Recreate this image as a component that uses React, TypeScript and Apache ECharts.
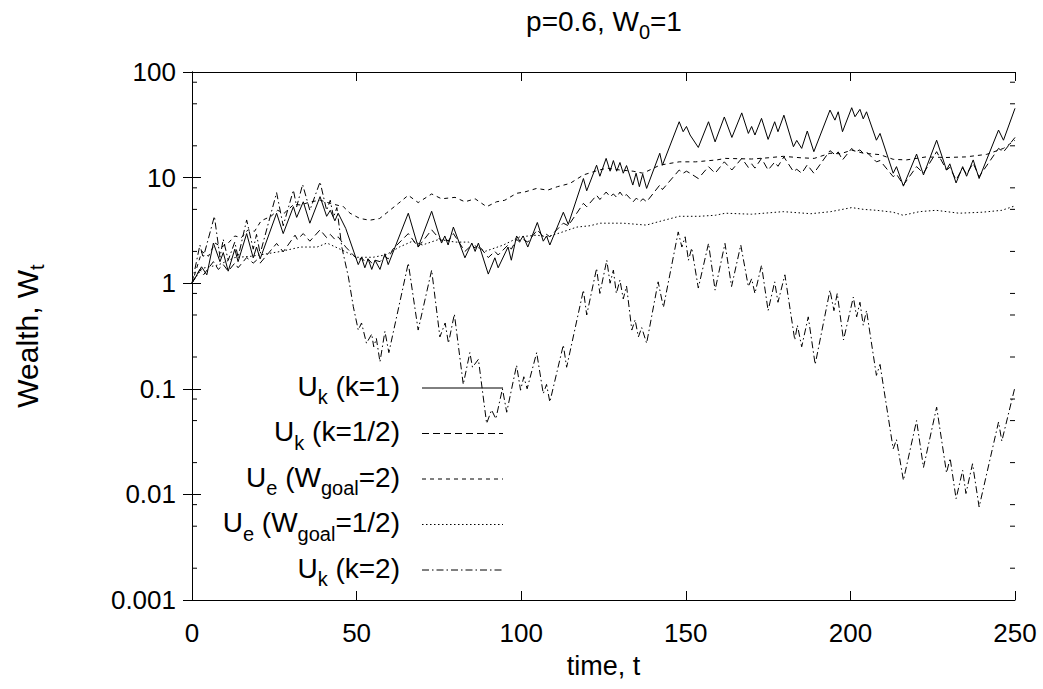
import React, { useEffect, useRef } from "react";
import * as echarts from "echarts";

// ---- data: [time t, wealth W_t] ----
const ukK1: [number, number][] = [
  [0, 1], [2.9, 1.43], [4.5, 1.2], [6.5, 2.4], [8.5, 1.6], [9.5, 1.95], [11, 1.3], [13, 2.1], [14, 1.6],
  [16.6, 2.95], [18.6, 1.74], [19.6, 2.2], [20.7, 1.7], [25.7, 4.6], [27.7, 2.95], [30.8, 5.3], [31.8, 4.2],
  [33.8, 5.9], [35.8, 3.7], [38.9, 6.6], [40.9, 4.3], [42, 4.9], [43.4, 3.9], [44.4, 4.6], [46.7, 3.3],
  [50.5, 1.5], [51.5, 1.75], [52.5, 1.4], [53.5, 1.7], [54.6, 1.35], [55.6, 1.65], [57.1, 1.35], [58.6, 1.9],
  [59.6, 1.5], [65.7, 4.6], [68.7, 2.2], [72.8, 4.8], [75.8, 2.4], [76.8, 2.8], [77.8, 2.3], [79.4, 3.4],
  [82.9, 1.74], [85, 2.4], [86, 2.0], [87, 2.4], [90, 1.22], [92, 1.74], [93, 1.4], [96, 2.2], [97, 1.65],
  [98.6, 2.8], [99.6, 2.5], [100.6, 2.8], [102, 2.2], [104.9, 3.76], [106.7, 2.5], [107.7, 2.8], [108.7, 2.3],
  [112.8, 4.7], [114.3, 3.6], [118.9, 9.8], [119.9, 7.5], [122.9, 13.1], [123.9, 10.3], [125.8, 15.2],
  [127, 11.5], [128, 14.5], [129, 11.5], [130, 13.9], [131, 11], [132, 13], [133.9, 8.5], [134.9, 11],
  [135.9, 8.2], [136.9, 10.8], [138.1, 7.9], [142.1, 17], [142.9, 13.1], [148, 33.8], [149.2, 27.2],
  [150.2, 30.5], [151.3, 25.3], [153.8, 19.3], [156.9, 33.8], [158.9, 21.8], [161.7, 37.5], [164, 24],
  [167, 41], [169, 26.2], [170, 30.5], [171, 25.3], [173, 36.4], [175, 23], [177, 33.8], [178, 27.2],
  [179.8, 39], [182.7, 19.6], [183.7, 22.5], [185.2, 18.9], [186.9, 27.6], [188.9, 17.6], [193.8, 43.6],
  [195.3, 35], [196.3, 42], [197.6, 27.2], [200.4, 45.9], [201.4, 37.7], [202.9, 44.3], [203.9, 36],
  [204.9, 42], [207.9, 22.6], [209, 26.2], [213, 11], [214, 12.7], [216.1, 8.3], [220.1, 16.7],
  [222.2, 10.6], [226.2, 22.6], [229.2, 11.8], [230.2, 13.5], [232.1, 8.9], [234.1, 12.7], [235.3, 10.3],
  [237.3, 14.7], [239.1, 9.8], [245, 28.2], [246.5, 22.6], [250, 45.3],
];

const ukKHalf: [number, number][] = [
  [0, 1], [2.4, 1.35], [3.5, 1.2], [6.5, 1.6], [8, 1.35], [9.5, 1.5], [11, 1.3], [13, 1.55], [14, 1.4],
  [16.6, 1.75], [18.6, 1.55], [19.6, 1.65], [20.7, 1.55], [25.7, 2.38], [27.7, 1.98], [31.3, 2.85], [32, 2.6],
  [33.8, 2.95], [35.8, 2.5], [38.9, 3.2], [40.9, 2.7], [42, 2.9], [43.4, 2.6], [44.4, 2.75], [46.7, 2.2],
  [50.5, 1.65], [51.5, 1.75], [52.5, 1.6], [53.5, 1.7], [54.6, 1.55], [55.6, 1.65], [57.1, 1.6], [58.6, 1.8],
  [59.6, 1.7], [61, 2.1], [65.7, 2.95], [68.7, 2.2], [72.8, 3.2], [75.8, 2.5], [76.8, 2.7], [77.8, 2.5],
  [79.4, 2.95], [82.9, 2.0], [85, 2.3], [86, 2.15], [87, 2.3], [90, 1.75], [92, 2.0], [93, 1.85], [96, 2.3],
  [97, 2.1], [98.6, 2.6], [99.6, 2.45], [100.6, 2.6], [102, 2.45], [104.9, 3.2], [106.7, 2.75], [107.7, 2.9],
  [108.7, 2.75], [112.8, 3.7], [114.3, 3.5], [118.9, 5.7], [119.9, 5.3], [122.9, 6.8], [123.9, 6.2],
  [125.8, 7.3], [127, 6.6], [128, 7.0], [129, 6.5], [130, 7.3], [131, 6.6], [132, 6.9], [134, 5.9],
  [135, 6.4], [136, 5.9], [137, 6.3], [138.1, 5.9], [142.1, 8.5], [142.9, 7.7], [148, 11.8], [149.2, 11],
  [150.2, 11.5], [151.3, 11.0], [153.8, 9.8], [156.9, 12.7], [158.9, 11], [161.7, 14.1], [164, 11.8],
  [167, 15.2], [169, 12.5], [170, 13.5], [171, 12.3], [173, 15.2], [175, 11.8], [177, 14], [178, 12.8],
  [179.8, 15.7], [182.7, 11.4], [183.7, 12], [185.2, 11], [186.9, 13.2], [188.9, 11], [193.8, 18],
  [195.3, 16.5], [196.3, 17.5], [197.6, 14.7], [200.4, 18.9], [201.4, 17.5], [202.9, 18.3], [203.9, 17],
  [204.9, 17.5], [207.9, 14.1], [209, 14.5], [213, 10.2], [214, 10.8], [216.1, 8.5], [220.1, 12.7],
  [222.2, 11], [226.2, 17.6], [229.2, 11.8], [230.2, 12.5], [232.1, 9.5], [234.1, 12.3], [235.3, 10.8],
  [237.3, 13.7], [239.1, 10.2], [245, 18.9], [246.5, 17.5], [250, 24],
];

const ueGoal2: [number, number][] = [
  [0, 1], [3, 2.0], [5, 1.8], [7, 2.4], [9, 2.2], [11, 2.4], [13, 2.8], [15, 2.7], [17, 3.2], [19, 3.1],
  [21, 3.9], [24, 4.3], [26, 4.9], [28, 4.6], [31, 5.6], [33, 5.5], [36, 5.9], [39, 6.1], [42, 5.7],
  [46, 5.3], [48, 4.6], [51, 4.1], [54, 3.95], [57, 4.1], [59, 4.6], [62.7, 5.7], [65.7, 6.8], [68.7, 5.8],
  [72.8, 7.0], [75.8, 6.3], [79.9, 6.5], [82.9, 5.9], [86, 6.3], [89.5, 5.3], [92.5, 5.9], [95, 6.1],
  [98.6, 7.1], [101, 7.3], [104.7, 7.9], [108, 7.6], [111, 8.2], [114.8, 8.8], [118.9, 10.6], [122.9, 11.6],
  [126, 12.3], [130, 11.8], [134, 11.5], [137, 11], [140, 12.2], [142.1, 13.1], [145, 13.6], [148, 14.1],
  [153, 14.1], [159.4, 14.7], [162, 15.2], [170, 15.0], [175, 15.4], [179.6, 15.9], [185, 15.4], [189, 15.2],
  [193.8, 17], [197, 16.8], [200.4, 18.2], [204, 17], [209, 16.5], [213, 14.9], [217, 14.7], [223, 15.7],
  [229, 15.5], [235, 15.7], [241.4, 16.6], [246.5, 18.9], [250, 22.6],
];

const ueGoalHalf: [number, number][] = [
  [0, 1], [3, 1.38], [8, 1.49], [13, 1.75], [18, 1.8], [21, 1.86], [27, 2.0], [33, 2.2], [38, 2.2],
  [41, 2.4], [45, 2.1], [50, 1.76], [55, 1.76], [59, 1.86], [63, 2.2], [67, 2.5], [70, 2.3], [75, 2.6],
  [80, 2.45], [84, 2.45], [89, 2.0], [94.6, 2.3], [99.6, 2.75], [104.7, 2.85], [108, 2.75], [111.8, 3.0],
  [116.9, 3.4], [120.9, 3.5], [124, 3.7], [131, 3.7], [138, 3.55], [142.1, 3.85], [148, 4.3], [154, 4.3],
  [159, 4.4], [162, 4.6], [170, 4.5], [179.6, 4.76], [188, 4.55], [194, 4.76], [200.4, 5.2], [204, 5.0],
  [208, 4.9], [213, 4.7], [216, 4.4], [221, 4.76], [226, 4.9], [233, 4.6], [240, 4.7], [246, 4.9], [250, 5.4],
];

const ukK2: [number, number][] = [
  [0, 1], [2.4, 2.3], [3.4, 1.74], [6.8, 4.3], [8.5, 1.76], [9.5, 2.6], [11, 1.65], [13, 2.45], [14, 1.76],
  [16.6, 3.97], [18.6, 2.1], [19.6, 2.9], [20.7, 1.9], [25.7, 7.2], [27.7, 3.5], [30.8, 7.6], [31.8, 5.3],
  [33.6, 8.6], [35.8, 4.9], [38.9, 9.1], [40.9, 4.9], [42, 6.1], [43, 4.2], [44, 5.2], [45.5, 2.2],
  [47.5, 1.15], [49, 0.6], [50.5, 0.36], [51.5, 0.42], [53, 0.27], [54.6, 0.33], [55.2, 0.25], [56, 0.3],
  [57.1, 0.18], [58.6, 0.35], [59.8, 0.22], [65.7, 1.55], [68.7, 0.36], [72.8, 1.33], [75.3, 0.31],
  [76.9, 0.42], [77.9, 0.27], [79.7, 0.51], [82.4, 0.11], [84.4, 0.22], [85.2, 0.16], [87, 0.19],
  [89.5, 0.047], [91, 0.063], [92.3, 0.052], [94.3, 0.1], [95.6, 0.06], [98.6, 0.167], [99.8, 0.097],
  [100.8, 0.13], [101.8, 0.1], [104.7, 0.22], [106.7, 0.09], [107.7, 0.11], [108.7, 0.075], [112.8, 0.26],
  [113.8, 0.16], [118.9, 0.86], [119.9, 0.5], [122.9, 1.38], [123.9, 0.8], [126, 1.65], [127, 1.0],
  [128, 1.33], [128.9, 0.8], [130, 1.07], [131, 0.71], [132, 0.94], [133.6, 0.36], [134.6, 0.45],
  [135.6, 0.31], [136.6, 0.38], [138.1, 0.27], [141.6, 1.03], [143.2, 0.59], [147.7, 3.06], [148.8, 2.2],
  [149.8, 2.75], [150.8, 1.65], [151.8, 2.15], [153.8, 0.9], [156.9, 2.38], [158.9, 0.86], [161.9, 2.38],
  [163.9, 0.93], [166.7, 2.3], [169, 0.93], [170, 1.1], [171, 0.8], [173, 1.48], [175, 0.55], [177, 1.03],
  [178, 0.66], [180.1, 1.2], [183.1, 0.29], [183.9, 0.4], [185.2, 0.25], [187.2, 0.48], [189.3, 0.17],
  [193.8, 0.86], [195, 0.55], [196, 0.8], [197.9, 0.29], [200.9, 0.74], [201.9, 0.48], [202.9, 0.66],
  [203.9, 0.4], [204.9, 0.55], [207.9, 0.134], [209, 0.17], [213, 0.027], [214, 0.033], [216.1, 0.0136],
  [220.1, 0.05], [222.2, 0.018], [226.2, 0.067], [229.2, 0.016], [230.3, 0.022], [232.1, 0.0091],
  [234.1, 0.0169], [235.1, 0.0102], [237.1, 0.0195], [239.1, 0.0076], [245, 0.0485], [246, 0.032],
  [250, 0.104],
];

const seriesNames = [
  "U{s|k} (k=1)",
  "U{s|k} (k=1/2)",
  "U{s|e} (W{s|goal}=2)",
  "U{s|e} (W{s|goal}=1/2)",
  "U{s|k} (k=2)",
];
const seriesData = [ukK1, ukKHalf, ueGoal2, ueGoalHalf, ukK2];

const xMin = 0;
const xMax = 250;
const xInterval = 50;
const yTickLabels = ["0.001", "0.01", "0.1", "1", "10", "100"];
const yMinorTicks = [
  0.002, 0.005, 0.008, 0.02, 0.05, 0.08, 0.2, 0.5, 0.8, 2, 5, 8, 20, 50, 80,
];
const titleText = "p=0.6, W{s|0}=1";
const xName = "time, t";
const yName = "Wealth, W{s|t}";

// ---- styles ----
const FONT = "'Liberation Sans', Arial, Helvetica, sans-serif";
const FS_TICK = 26;
const FS_LEGEND = 28;
const FS_TITLE = 28;
const FS_XNAME = 27;
const FS_YNAME = 30;
const FS_SUB = 20;
const dashes: (string | number[])[] = ["solid", [7, 4], [4, 4], [1.5, 2.5], [7, 3, 1.5, 3]];
const subStyle = (extra: any = {}) => ({
  fontSize: FS_SUB,
  fontFamily: FONT,
  verticalAlign: "bottom",
  lineHeight: FS_SUB,
  ...extra,
});

export default function App() {
  const ref = useRef<HTMLDivElement>(null);
  useEffect(() => {
    document.body.style.margin = "0";
    if (!ref.current) return;
    const chart = echarts.init(ref.current, undefined, { renderer: "svg" });

    const gridLeft = 192, gridTop = 72, gridRight = 28, gridBottom = 89;
    const legendTextX = 400;
    const legendLineX1 = 422, legendLineX2 = 503;
    const legendY0 = 388, legendDy = 45.5;

    const legendGraphics: any[] = [];
    seriesNames.forEach((nm, i) => {
      const y = legendY0 + i * legendDy;
      legendGraphics.push({
        type: "text",
        x: legendTextX,
        y: y - 2,
        style: {
          text: nm,
          align: "right",
          verticalAlign: "middle",
          fontSize: FS_LEGEND,
          fontFamily: FONT,
          fill: "#000",
          lineHeight: 42,
          rich: { s: subStyle({ fill: "#000" }) },
        },
      });
      const d = dashes[i];
      legendGraphics.push({
        type: "line",
        shape: { x1: legendLineX1, y1: y, x2: legendLineX2, y2: y },
        style: { stroke: "#000", lineWidth: 1, lineDash: d === "solid" ? null : d },
      });
    });

    const tickLen = 9;
    const minorLen = 5;

    const option: any = {
      animation: false,
      backgroundColor: "#fff",
      textStyle: { fontFamily: FONT },
      grid: {
        left: gridLeft,
        top: gridTop,
        right: gridRight,
        bottom: gridBottom,
        containLabel: false,
        outerBoundsMode: "none",
      },
      graphic: [
        {
          type: "text",
          x: 604,
          y: 21,
          style: {
            text: titleText,
            align: "center",
            verticalAlign: "middle",
            fontSize: FS_TITLE,
            fontFamily: FONT,
            fill: "#000",
            lineHeight: 42,
            rich: { s: subStyle({ fill: "#000" }) },
          },
        },
        ...legendGraphics,
      ],
      xAxis: [
        {
          type: "value",
          min: xMin,
          max: xMax,
          interval: xInterval,
          position: "bottom",
          name: xName,
          nameLocation: "middle",
          nameGap: 52,
          nameTextStyle: { fontSize: FS_XNAME, fontFamily: FONT, color: "#000" },
          axisLine: { show: true, lineStyle: { color: "#000", width: 1 } },
          axisTick: { show: true, inside: true, length: tickLen, lineStyle: { color: "#000" } },
          axisLabel: { fontSize: FS_TICK, fontFamily: FONT, color: "#000", margin: 20 },
          splitLine: { show: false },
        },
        {
          type: "value",
          min: xMin,
          max: xMax,
          interval: xInterval,
          position: "top",
          axisLine: { show: true, lineStyle: { color: "#000", width: 1 } },
          axisTick: { show: true, inside: true, length: tickLen, lineStyle: { color: "#000" } },
          axisLabel: { show: false },
          splitLine: { show: false },
        },
      ],
      yAxis: [
        {
          type: "log",
          logBase: 10,
          min: 0.001,
          max: 100,
          position: "left",
          name: yName,
          nameLocation: "middle",
          nameRotate: 90,
          nameGap: 145,
          nameTextStyle: {
            fontSize: FS_YNAME,
            fontFamily: FONT,
            color: "#000",
            lineHeight: 40,
            rich: { s: subStyle({ color: "#000" }) },
          },
          axisLine: { show: true, lineStyle: { color: "#000", width: 1 } },
          axisTick: { show: true, inside: true, length: tickLen, lineStyle: { color: "#000" } },
          axisLabel: {
            fontSize: FS_TICK,
            fontFamily: FONT,
            color: "#000",
            margin: 16,
            formatter: (v: number) => {
              const idx = Math.round(Math.log10(v)) + 3;
              return yTickLabels[idx] ?? String(v);
            },
          },
          splitLine: { show: false },
        },
        {
          type: "log",
          logBase: 10,
          min: 0.001,
          max: 100,
          position: "right",
          axisLine: { show: true, lineStyle: { color: "#000", width: 1 } },
          axisTick: { show: true, inside: true, length: tickLen, lineStyle: { color: "#000" } },
          axisLabel: { show: false },
          splitLine: { show: false },
        },
      ],
      series: [
        ...seriesData.map((d, i) => ({
          type: "line",
          name: seriesNames[i],
          data: d,
          xAxisIndex: 0,
          yAxisIndex: 0,
          showSymbol: false,
          symbol: "none",
          silent: true,
          lineStyle: { color: "#000", width: 1, type: dashes[i] },
          z: 3,
        })),
        {
          type: "custom",
          xAxisIndex: 0,
          yAxisIndex: 0,
          silent: true,
          data: yMinorTicks.map((v) => [xMin, v]),
          renderItem: (_p: any, api: any) => {
            const v = api.value(1);
            const pl = api.coord([xMin, v]);
            const pr = api.coord([xMax, v]);
            return {
              type: "group",
              children: [
                { type: "line", shape: { x1: pl[0], y1: pl[1], x2: pl[0] + minorLen, y2: pl[1] }, style: { stroke: "#000", lineWidth: 1 } },
                { type: "line", shape: { x1: pr[0], y1: pr[1], x2: pr[0] - minorLen, y2: pr[1] }, style: { stroke: "#000", lineWidth: 1 } },
              ],
            };
          },
          z: 4,
        },
      ],
    };
    chart.setOption(option);
    return () => chart.dispose();
  }, []);
  return <div ref={ref} style={{ width: 1043, height: 689 }} />;
}
